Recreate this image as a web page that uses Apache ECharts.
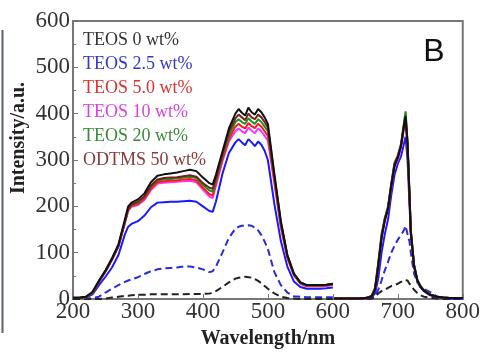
<!DOCTYPE html>
<html>
<head>
<meta charset="utf-8">
<script src="https://cdn.jsdelivr.net/npm/echarts@6/dist/echarts.min.js"></script>
<style>
  html, body { margin: 0; padding: 0; background: #fff; }
  #chart { width: 483px; height: 354px; }
</style>
</head>
<body>
<div id="chart"></div>
<script>
// wavelengths (nm) for the UV-vis part and the red part of the spectrum
var wl_left = [200, 210, 220, 230, 240, 250, 260, 270, 280, 285, 290, 300, 310, 320, 330, 340, 350, 360, 370, 380, 390, 400, 410, 415, 420, 430, 440, 450, 455, 460, 465, 470, 475, 480, 485, 490, 495, 500, 510, 520, 530, 540, 550, 560, 570, 580, 590, 600];
var wl_right = [602, 620, 640, 650, 655, 660, 665, 670, 675, 680, 685, 690, 695, 700, 705, 710, 712, 715, 718, 720, 725, 730, 735, 740, 750, 760, 770, 780, 790, 800];

var names = ['TEOS 0 wt%', 'TEOS 2.5 wt%', 'TEOS 5.0 wt%', 'TEOS 10 wt%', 'TEOS 20 wt%', 'ODTMS 50 wt%'];
var colors = ['#111111', '#1a1aff', '#ff1a1a', '#ff33ff', '#1f8f1f', '#7a1f1f'];
var text_colors = ['#333333', '#3535d0', '#e03030', '#e040e0', '#3a8a3a', '#8b3a3a'];

var teos0_l = [3, 3, 5, 15, 40, 62, 88, 118, 172, 200, 208, 215, 228, 252, 266, 269, 271, 273, 276, 279, 276, 262, 250, 247, 268, 318, 368, 400, 410, 402, 396, 413, 403, 398, 410, 403, 392, 378, 270, 168, 95, 55, 36, 30, 30, 30, 31, 33];
var teos25_l = [2, 2, 3, 10, 30, 48, 68, 95, 140, 156, 162, 168, 180, 198, 208, 209, 210, 210, 211, 212, 210, 200, 190, 188, 210, 270, 315, 338, 345, 338, 332, 345, 338, 330, 340, 333, 320, 300, 205, 125, 70, 38, 26, 22, 22, 22, 23, 25];
var teos5_l = [2, 2, 4, 14, 38, 60, 85, 114, 166, 192, 201, 205, 217, 238, 252, 254, 255, 256, 258, 259, 256, 240, 226, 224, 250, 302, 345, 372, 378, 372, 368, 380, 373, 369, 378, 372, 362, 352, 255, 158, 90, 52, 34, 28, 28, 28, 29, 31];
var teos10_l = [2, 2, 4, 13, 37, 59, 84, 113, 164, 190, 199, 203, 214, 235, 249, 251, 252, 253, 254, 255, 252, 236, 221, 218, 244, 297, 340, 362, 368, 362, 358, 370, 363, 358, 368, 362, 352, 342, 250, 154, 88, 51, 33, 27, 27, 27, 28, 30];
var teos20_l = [2, 2, 4, 14, 38, 60, 86, 115, 167, 194, 203, 208, 220, 242, 256, 258, 259, 260, 262, 264, 261, 246, 234, 232, 256, 308, 352, 382, 388, 382, 378, 390, 383, 378, 388, 382, 372, 362, 262, 162, 92, 53, 35, 29, 29, 29, 30, 32];
var odtms50_l = [2, 2, 4, 14, 38, 60, 86, 115, 168, 195, 204, 210, 222, 245, 258, 261, 262, 263, 265, 267, 264, 250, 240, 238, 260, 312, 360, 390, 398, 392, 386, 400, 392, 388, 398, 392, 382, 370, 265, 165, 94, 55, 36, 30, 30, 30, 31, 33];

var teos0_r = [1, 1, 1, 2, 3, 6, 20, 72, 132, 170, 195, 245, 288, 305, 330, 378, 395, 335, 225, 145, 72, 40, 26, 18, 9, 5, 3, 2, 2, 2];
var teos25_r = [0, 0, 1, 1, 2, 4, 12, 45, 100, 140, 172, 225, 268, 292, 308, 338, 350, 300, 205, 140, 70, 38, 25, 17, 8, 4, 2, 1, 1, 1];
var teos5_r = [1, 1, 2, 2, 3, 7, 22, 76, 136, 172, 198, 248, 292, 308, 333, 382, 400, 338, 228, 148, 74, 41, 27, 19, 9, 5, 3, 2, 2, 2];
var teos10_r = [1, 1, 1, 2, 3, 6, 20, 72, 130, 168, 193, 242, 285, 300, 325, 372, 385, 330, 222, 145, 72, 40, 26, 18, 9, 5, 3, 2, 2, 2];
var teos20_r = [1, 1, 2, 2, 4, 8, 25, 80, 140, 175, 200, 250, 295, 310, 335, 385, 405, 340, 230, 150, 75, 42, 28, 20, 10, 5, 3, 2, 2, 2];
var odtms50_r = [1, 1, 1, 2, 3, 7, 22, 75, 135, 172, 197, 247, 290, 307, 332, 380, 390, 332, 222, 146, 73, 41, 27, 19, 9, 5, 3, 2, 2, 2];

// dashed curves (no legend entry)
var dash_blue_l = [0, 0, 1, 2, 5, 14, 22, 30, 37, 40, 42, 47, 54, 60, 64, 66, 67, 68, 70, 70, 68, 64, 58, 60, 70, 100, 132, 152, 156, 158, 158, 159, 158, 154, 148, 138, 124, 108, 58, 30, 14, 6, 5, 4, 4, 4, 4, 4];
var dash_blue_r = [0, 0, 0, 1, 1, 2, 6, 20, 40, 62, 80, 100, 115, 128, 138, 150, 158, 140, 124, 100, 55, 36, 28, 22, 15, 6, 2, 1, 1, 1];
var dash_black_l = [0, 0, 0, 0, 0, 1, 3, 5, 7, 7, 8, 9, 9, 10, 10, 10, 10, 10, 10, 11, 11, 11, 12, 13, 17, 26, 36, 44, 46, 47, 48, 47, 46, 43, 39, 34, 28, 22, 12, 5, 2, 1, 0, 0, 0, 0, 0, 0];
var dash_black_r = [0, 0, 0, 0, 0, 1, 4, 12, 17, 20, 24, 28, 30, 33, 37, 41, 43, 40, 33, 30, 20, 13, 8, 5, 3, 1, 0, 0, 0, 0];

var y_ticks = [0, 100, 200, 300, 400, 500, 600];
var x_ticks = [200, 300, 400, 500, 600, 700, 800];

function pairs(left, right) {
    var out = [];
    for (var i = 0; i < wl_left.length; i++) out.push([wl_left[i], left[i]]);
    out.push([601, null]);
    for (var j = 0; j < wl_right.length; j++) out.push([wl_right[j], right[j]]);
    return out;
}

var solid_left = [teos0_l, teos25_l, teos5_l, teos10_l, teos20_l, odtms50_l];
var solid_right = [teos0_r, teos25_r, teos5_r, teos10_r, teos20_r, odtms50_r];

var series = [];
series.push({
    name: 'dash blue', type: 'line', data: pairs(dash_blue_l, dash_blue_r),
    showSymbol: false, connectNulls: false, z: 2,
    lineStyle: { color: '#2a2ae0', width: 2, type: [7, 4] }
});
series.push({
    name: 'dash black', type: 'line', data: pairs(dash_black_l, dash_black_r),
    showSymbol: false, connectNulls: false, z: 2,
    lineStyle: { color: '#222', width: 2, type: [7, 4] }
});
// draw order: blue, magenta, red, green, brown, black on top
var order = [1, 3, 2, 4, 5, 0];
for (var k = 0; k < order.length; k++) {
    var i = order[k];
    series.push({
        name: names[i], type: 'line', data: pairs(solid_left[i], solid_right[i]),
        showSymbol: false, connectNulls: false, z: 3 + k,
        itemStyle: { color: colors[i] },
        lineStyle: { color: colors[i], width: 2 }
    });
}

var legend_data = [];
for (var n = 0; n < names.length; n++) {
    legend_data.push({ name: names[n], icon: 'none', textStyle: { color: text_colors[n] } });
}

var chart = echarts.init(document.getElementById('chart'), null, { renderer: 'canvas' });
var option = {
    animation: false,
    backgroundColor: '#fff',
    grid: { left: 73, right: 16, top: 21, bottom: 53, show: true, borderColor: '#777', borderWidth: 2 },
    legend: {
        orient: 'vertical', left: 78, top: 31, padding: 0,
        itemWidth: 0, itemHeight: 18, itemGap: 6, selectedMode: false,
        textStyle: { fontFamily: 'Liberation Serif', fontSize: 18 },
        data: legend_data
    },
    xAxis: {
        type: 'value', min: x_ticks[0], max: x_ticks[x_ticks.length - 1], interval: 100,
        name: 'Wavelength/nm', nameLocation: 'middle', nameGap: 30,
        nameTextStyle: { fontFamily: 'Liberation Serif', fontWeight: 'bold', fontSize: 20, color: '#222' },
        axisLine: { lineStyle: { color: '#777', width: 2 } },
        axisTick: { inside: true, length: 5, lineStyle: { color: '#777' } },
        axisLabel: { fontFamily: 'Liberation Serif', fontSize: 23, color: '#333', margin: 1 },
        splitLine: { show: false }
    },
    yAxis: {
        type: 'value', min: y_ticks[0], max: y_ticks[y_ticks.length - 1], interval: 100,
        axisLine: { show: true, lineStyle: { color: '#777', width: 2 } },
        axisTick: { show: true, inside: true, length: 5, lineStyle: { color: '#777' } },
        minorTick: { show: true, splitNumber: 2, length: 3, lineStyle: { color: '#777' } },
        axisLabel: { fontFamily: 'Liberation Serif', fontSize: 23, color: '#333', margin: 3 },
        splitLine: { show: false }
    },
    graphic: [
        {
            type: 'text', x: 19, y: 138, rotation: Math.PI / 2,
            style: { text: 'Intensity/a.u.', font: 'bold 20px "Liberation Serif"', fill: '#222', align: 'center', verticalAlign: 'middle' }
        },
        {
            type: 'text', x: 434, y: 52,
            style: { text: 'B', font: '32px "Liberation Sans"', fill: '#111', align: 'center', verticalAlign: 'middle' }
        },
        {
            type: 'line', shape: { x1: 2.5, y1: 30, x2: 2.5, y2: 333 },
            style: { stroke: '#5a6070', lineWidth: 2 }
        }
    ],
    series: series
};
chart.setOption(option);
</script>
</body>
</html>
